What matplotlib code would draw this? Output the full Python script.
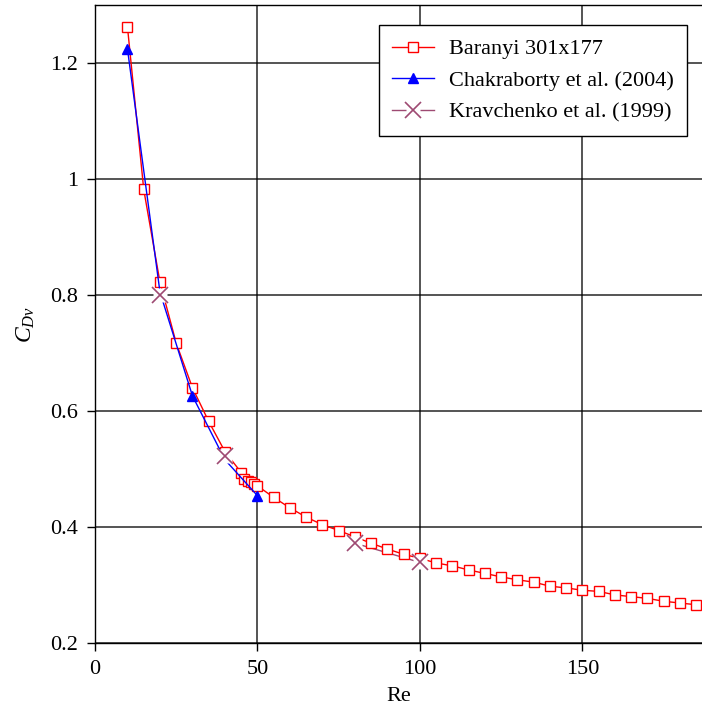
import matplotlib
matplotlib.use('Agg')
import matplotlib.pyplot as plt
from matplotlib.lines import Line2D
from matplotlib.legend_handler import HandlerTuple
from matplotlib.ticker import FuncFormatter


# Baranyi 301x177
re_baranyi = [10, 15, 20, 25, 30, 35, 40, 45, 46, 47, 48, 49, 50, 55, 60, 65, 70, 75, 80,
              85, 90, 95, 100, 105, 110, 115, 120, 125, 130, 135, 140, 145, 150, 155,
              160, 165, 170, 175, 180, 185]
cd_baranyi = [1.262, 0.982, 0.822, 0.717, 0.640, 0.582, 0.530, 0.494, 0.483, 0.480, 0.477,
              0.475, 0.471, 0.451, 0.433, 0.417, 0.404, 0.394, 0.383, 0.372, 0.362, 0.353,
              0.346, 0.338, 0.333, 0.326, 0.320, 0.314, 0.309, 0.305, 0.298, 0.295,
              0.291, 0.289, 0.283, 0.280, 0.277, 0.272, 0.269, 0.266]

# Chakraborty et al. (2004)
re_chak = [10, 20, 30, 40, 50]
cd_chak = [1.224, 0.805, 0.626, 0.516, 0.454]

# Kravchenko et al. (1999)
re_krav = [20, 40, 80, 100]
cd_krav = [0.800, 0.522, 0.372, 0.339]

KRAV_COLOR = '#9e4a72'

plt.rcParams['font.family'] = ['Liberation Serif', 'DejaVu Serif']
plt.rcParams['mathtext.fontset'] = 'custom'
plt.rcParams['mathtext.rm'] = 'Liberation Serif'
plt.rcParams['mathtext.it'] = 'Liberation Serif:italic'
plt.rcParams['font.size'] = 16

fig = plt.figure(figsize=(7.02, 7.14), dpi=100)
ax = fig.add_axes([0.1353, 0.0994, 0.8647, 0.8936])

ax.plot(re_baranyi, cd_baranyi, color='red', lw=1.0, marker='s', ms=6.5,
        mfc='white', mec='red', mew=1.0, zorder=3)
ax.plot(re_chak, cd_chak, color='blue', lw=1.0, marker='^', ms=7.5,
        mfc='blue', mec='blue', markevery=[0, 2, 4], zorder=3.2)
# only the 80-100 segment of the Kravchenko line shows in the original
ax.plot(re_krav[2:], cd_krav[2:], color=KRAV_COLOR, lw=1.0, zorder=2.5)
# white patch behind the crosses
ax.plot(re_krav, cd_krav, ls='none', marker='s', ms=10, mfc='white', mec='none', zorder=4)
ax.plot(re_krav, cd_krav, ls='none', marker='x', ms=11, mec=KRAV_COLOR, mew=1.2, zorder=5)

ax.set_xlim(0, 186.8)
ax.set_ylim(0.2, 1.3)
ax.set_xticks([0, 50, 100, 150])
ax.set_yticks([0.2, 0.4, 0.6, 0.8, 1.0, 1.2])
ax.yaxis.set_major_formatter(FuncFormatter(lambda v, p: f'{v:g}'))
ax.tick_params(direction='out', length=6, width=1, colors='black', pad=6)
ax.grid(True, color='black', lw=1.1, alpha=0.85)
ax.set_axisbelow(True)
ax.spines['right'].set_visible(False)
for s in ['left', 'top', 'bottom']:
    ax.spines[s].set_linewidth(1.0)

ax.set_xlabel('Re', labelpad=6)
ax.set_ylabel('$C_{Dv}$', labelpad=10, fontsize=17)

# legend handles
h_bar = Line2D([], [], color='red', lw=1.0, marker='s', ms=6.5, mfc='white', mec='red')
h_chak = Line2D([], [], color='blue', lw=1.0, marker='^', ms=7.5, mfc='blue', mec='blue')
h_kline = Line2D([], [], color=KRAV_COLOR, lw=1.0)
h_kbox = Line2D([], [], ls='none', marker='s', ms=10, mfc='white', mec='none')
h_kx = Line2D([], [], ls='none', marker='x', ms=11, mec=KRAV_COLOR, mew=1.2)

leg = ax.legend([h_bar, h_chak, (h_kline, h_kbox, h_kx)],
                ['Baranyi 301x177', 'Chakraborty et al. (2004)', 'Kravchenko et al. (1999)'],
                handler_map={tuple: HandlerTuple(ndivide=1, pad=0)},
                loc='upper right', bbox_to_anchor=(0.975, 0.968), borderaxespad=0,
                fancybox=False, edgecolor='black', framealpha=1,
                handlelength=1.9, handletextpad=0.65, labelspacing=0.5, borderpad=0.6)
leg.get_frame().set_linewidth(1.0)

fig.savefig('out.png', dpi=100)
